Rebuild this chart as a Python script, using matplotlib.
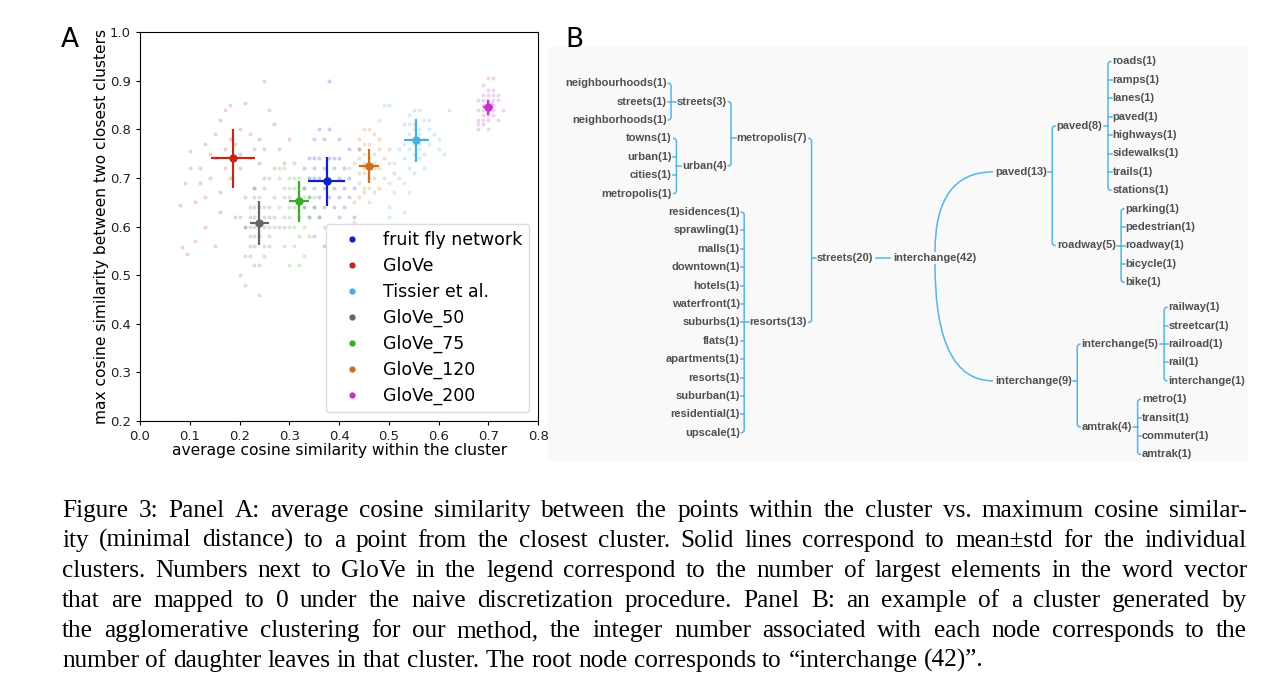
import matplotlib
matplotlib.use("Agg")
import matplotlib.pyplot as plt
from matplotlib.lines import Line2D
from matplotlib.path import Path
from matplotlib.patches import PathPatch, Rectangle

# ---------------- panel A data ----------------
names = ["fruit fly network", "GloVe", "Tissier et al.", "GloVe_50", "GloVe_75", "GloVe_120", "GloVe_200"]
colors = ["#1020c8", "#c0281c", "#45b0e5", "#666666", "#3aaa2a", "#cc6f1f", "#c334c8"]
mean_x = [0.375, 0.187, 0.555, 0.240, 0.320, 0.460, 0.700]
mean_y = [0.693, 0.740, 0.777, 0.607, 0.652, 0.725, 0.845]
std_x = [0.037, 0.045, 0.025, 0.020, 0.020, 0.020, 0.010]
std_y = [0.050, 0.060, 0.045, 0.045, 0.042, 0.035, 0.016]

fly_x = [0.36, 0.38, 0.35, 0.37, 0.40, 0.34, 0.35, 0.36, 0.38, 0.39, 0.40, 0.33, 0.35, 0.37, 0.39, 0.41,
         0.34, 0.35, 0.36, 0.38, 0.40, 0.42, 0.33, 0.35, 0.37, 0.39, 0.41, 0.34, 0.36, 0.38, 0.40, 0.42,
         0.35, 0.37, 0.39, 0.34, 0.36, 0.40, 0.38, 0.35, 0.37, 0.43, 0.38, 0.44, 0.42, 0.33, 0.41, 0.43]
fly_y = [0.80, 0.80, 0.78, 0.78, 0.78, 0.74, 0.74, 0.74, 0.74, 0.74, 0.74, 0.72, 0.72, 0.72, 0.72, 0.72,
         0.70, 0.70, 0.70, 0.70, 0.70, 0.70, 0.68, 0.68, 0.68, 0.68, 0.68, 0.66, 0.66, 0.66, 0.66, 0.66,
         0.64, 0.64, 0.64, 0.62, 0.62, 0.62, 0.60, 0.58, 0.56, 0.68, 0.90, 0.76, 0.76, 0.64, 0.64, 0.62]

glove_x = [0.10, 0.09, 0.08, 0.085, 0.095, 0.11, 0.13, 0.12, 0.13, 0.15, 0.16, 0.17, 0.18, 0.21, 0.20, 0.22,
           0.24, 0.25, 0.27, 0.26, 0.30, 0.27, 0.25, 0.23, 0.21, 0.16, 0.14, 0.15, 0.17, 0.19, 0.20, 0.18,
           0.22, 0.24, 0.16, 0.13, 0.25, 0.10, 0.11, 0.19, 0.15, 0.21, 0.28, 0.29, 0.17, 0.20, 0.18, 0.14,
           0.23, 0.12]
glove_y = [0.755, 0.69, 0.645, 0.557, 0.543, 0.57, 0.60, 0.72, 0.77, 0.79, 0.82, 0.84, 0.85, 0.855, 0.80, 0.79,
           0.78, 0.76, 0.81, 0.84, 0.78, 0.72, 0.70, 0.68, 0.66, 0.67, 0.70, 0.74, 0.76, 0.77, 0.72, 0.70,
           0.74, 0.73, 0.63, 0.66, 0.90, 0.72, 0.65, 0.62, 0.56, 0.60, 0.76, 0.73, 0.72, 0.75, 0.78, 0.75,
           0.76, 0.69]

tissier_x = [0.55, 0.56, 0.54, 0.57, 0.53, 0.55, 0.56, 0.58, 0.54, 0.55, 0.57, 0.59, 0.53, 0.56, 0.58, 0.52,
             0.54, 0.55, 0.57, 0.60, 0.53, 0.56, 0.51, 0.54, 0.55, 0.57, 0.52, 0.53, 0.50, 0.51, 0.54, 0.50,
             0.53, 0.50, 0.61, 0.60, 0.62, 0.49, 0.50, 0.48, 0.56, 0.55, 0.54, 0.58, 0.55, 0.56]
tissier_y = [0.84, 0.84, 0.83, 0.82, 0.81, 0.81, 0.80, 0.80, 0.79, 0.78, 0.78, 0.79, 0.77, 0.77, 0.77, 0.76,
             0.76, 0.75, 0.75, 0.76, 0.74, 0.74, 0.73, 0.72, 0.71, 0.72, 0.70, 0.69, 0.69, 0.67, 0.67, 0.64,
             0.63, 0.62, 0.75, 0.78, 0.84, 0.85, 0.85, 0.82, 0.79, 0.80, 0.81, 0.82, 0.77, 0.76]

g50_x = [0.22, 0.23, 0.24, 0.25, 0.26, 0.22, 0.23, 0.25, 0.26, 0.27, 0.21, 0.22, 0.23, 0.25, 0.26, 0.28,
         0.22, 0.23, 0.24, 0.26, 0.22, 0.23, 0.25, 0.26, 0.21, 0.22, 0.25, 0.23, 0.24, 0.20, 0.21, 0.24,
         0.23, 0.24, 0.25, 0.23, 0.26, 0.27, 0.29, 0.20]
g50_y = [0.64, 0.64, 0.64, 0.64, 0.64, 0.62, 0.62, 0.62, 0.62, 0.62, 0.60, 0.60, 0.60, 0.60, 0.60, 0.60,
         0.58, 0.58, 0.58, 0.58, 0.56, 0.56, 0.56, 0.56, 0.54, 0.54, 0.54, 0.52, 0.52, 0.50, 0.48, 0.46,
         0.66, 0.66, 0.68, 0.68, 0.70, 0.66, 0.60, 0.62]

g75_x = [0.28, 0.29, 0.31, 0.28, 0.30, 0.32, 0.29, 0.30, 0.31, 0.33, 0.29, 0.30, 0.32, 0.33, 0.34, 0.30,
         0.31, 0.33, 0.35, 0.29, 0.30, 0.32, 0.34, 0.36, 0.30, 0.31, 0.33, 0.32, 0.34, 0.29, 0.31, 0.33,
         0.30, 0.32, 0.27, 0.35, 0.31, 0.28, 0.34, 0.37]
g75_y = [0.72, 0.72, 0.73, 0.70, 0.70, 0.70, 0.68, 0.68, 0.68, 0.68, 0.66, 0.66, 0.66, 0.66, 0.66, 0.64,
         0.64, 0.64, 0.64, 0.62, 0.62, 0.62, 0.62, 0.62, 0.60, 0.60, 0.60, 0.58, 0.58, 0.56, 0.56, 0.54,
         0.52, 0.52, 0.60, 0.66, 0.70, 0.64, 0.70, 0.60]

g120_x = [0.45, 0.46, 0.47, 0.44, 0.45, 0.46, 0.48, 0.44, 0.45, 0.47, 0.48, 0.49, 0.44, 0.46, 0.43, 0.45,
          0.47, 0.48, 0.50, 0.44, 0.45, 0.46, 0.47, 0.49, 0.44, 0.45, 0.46, 0.48, 0.45, 0.47, 0.44, 0.46,
          0.43, 0.42, 0.50, 0.51, 0.46, 0.45, 0.47, 0.43]
g120_y = [0.80, 0.80, 0.79, 0.78, 0.77, 0.77, 0.78, 0.76, 0.75, 0.75, 0.76, 0.74, 0.74, 0.74, 0.73, 0.73,
          0.72, 0.72, 0.73, 0.71, 0.71, 0.70, 0.70, 0.70, 0.69, 0.68, 0.68, 0.68, 0.67, 0.67, 0.66, 0.65,
          0.65, 0.72, 0.76, 0.71, 0.72, 0.72, 0.73, 0.61]

g200_x = [0.70, 0.71, 0.69, 0.70, 0.71, 0.69, 0.70, 0.72, 0.68, 0.69, 0.70, 0.71, 0.72, 0.69, 0.70, 0.71,
          0.68, 0.69, 0.70, 0.71, 0.73, 0.69, 0.70, 0.71, 0.68, 0.69, 0.70, 0.72, 0.68, 0.69, 0.70, 0.68,
          0.695, 0.705, 0.70, 0.71]
g200_y = [0.905, 0.905, 0.89, 0.88, 0.88, 0.87, 0.87, 0.87, 0.86, 0.86, 0.86, 0.86, 0.86, 0.85, 0.85, 0.85,
          0.84, 0.84, 0.84, 0.84, 0.84, 0.83, 0.83, 0.83, 0.82, 0.82, 0.82, 0.82, 0.81, 0.81, 0.80, 0.80,
          0.845, 0.855, 0.835, 0.87]

clouds = [(fly_x, fly_y), (glove_x, glove_y), (tissier_x, tissier_y), (g50_x, g50_y),
          (g75_x, g75_y), (g120_x, g120_y), (g200_x, g200_y)]
x_ticks = [0.0, 0.1, 0.2, 0.3, 0.4, 0.5, 0.6, 0.7, 0.8]
y_ticks = [0.2, 0.3, 0.4, 0.5, 0.6, 0.7, 0.8, 0.9, 1.0]

# ---------------- panel B data ----------------
root_name = "interchange"
left_tree = ("streets", [
    ("metropolis", [
        ("streets", ["neighbourhoods", "streets", "neighborhoods"]),
        ("urban", ["towns", "urban", "cities", "metropolis"])]),
    ("resorts", ["residences", "sprawling", "malls", "downtown", "hotels", "waterfront", "suburbs",
                 "flats", "apartments", "resorts", "suburban", "residential", "upscale"])])
right_trees = [
    ("paved", [
        ("paved", ["roads", "ramps", "lanes", "paved", "highways", "sidewalks", "trails", "stations"]),
        ("roadway", ["parking", "pedestrian", "roadway", "bicycle", "bike"])]),
    ("interchange", [
        ("interchange", ["railway", "streetcar", "railroad", "rail", "interchange"]),
        ("amtrak", ["metro", "transit", "commuter", "amtrak"])])]

caption_lines = [
    "Figure 3: Panel A: average cosine similarity between the points within the cluster vs. maximum cosine similar-",
    "ity (minimal distance) to a point from the closest cluster. Solid lines correspond to mean\u00b1std for the individual",
    "clusters. Numbers next to GloVe in the legend correspond to the number of largest elements in the word vector",
    "that are mapped to 0 under the naive discretization procedure. Panel B: an example of a cluster generated by",
    "the agglomerative clustering for our method, the integer number associated with each node corresponds to the",
    "number of daughter leaves in that cluster. The root node corresponds to \u201cinterchange (42)\u201d.",
]

fig = plt.figure(figsize=(12.8, 6.81), dpi=100)
renderer = fig.canvas.get_renderer()

# overlay in pixel units for panel B, labels and caption
ov = fig.add_axes([0, 0, 1, 1])
ov.set_xlim(0, 1280)
ov.set_ylim(681, 0)
ov.axis("off")

# ---------------- panel A ----------------
ax = fig.add_axes([0.1094, 0.3818, 0.311, 0.5712])
for (cx, cy), c in zip(clouds, colors):
    ax.scatter(cx, cy, s=8, color=c, alpha=0.22, linewidths=0)
for i in range(len(names)):
    ax.errorbar(mean_x[i], mean_y[i], xerr=std_x[i], yerr=std_y[i], fmt="o", color=colors[i],
                ms=5, elinewidth=1.6, capsize=0)
ax.set_xlim(0, 0.8)
ax.set_ylim(0.2, 1.0)
ax.set_xticks(x_ticks)
ax.set_yticks(y_ticks)
ax.tick_params(labelsize=9.5, length=3, labelcolor="#222222")
ax.set_xlabel("average cosine similarity within the cluster", fontsize=11.2, labelpad=0)
ax.set_ylabel("max cosine similarity between two closest clusters", fontsize=11.2, labelpad=1)
handles = [Line2D([], [], marker="o", ls="none", color=c, ms=3.5) for c in colors]
ax.legend(handles, names, loc="lower right", fontsize=12.5, handlelength=2.2, handletextpad=0.7,
          labelspacing=0.45, borderaxespad=0.5, edgecolor="#dddddd", framealpha=1)

ov.text(61, 47, "A", fontsize=19, va="baseline")
ov.text(565, 47, "B", fontsize=19, va="baseline")

# ---------------- panel B ----------------
LINE = "#55b5e6"
LW = 1.1
ROW = 18.4
tree_font = dict(family="Liberation Sans", weight="bold", fontsize=8.0, color="#505050")
ov.add_patch(Rectangle((548, 47), 700, 415, color="#f9f9f9", lw=0, zorder=0))


def n_leaves(node):
    if isinstance(node, str):
        return 1
    return sum(n_leaves(c) for c in node[1])


def label(node):
    name = node if isinstance(node, str) else node[0]
    return "%s(%d)" % (name, n_leaves(node))


def draw_bracket(px, py, bx, ys, cx, side):
    r = 3.0
    ov.plot([px, bx], [py, py], color=LINE, lw=LW)
    top, bot = ys[0], ys[-1]
    verts = [(cx, top), (bx + side * r, top), (bx, top), (bx, top + r),
             (bx, bot - r), (bx, bot), (bx + side * r, bot), (cx, bot)]
    codes = [Path.MOVETO, Path.LINETO, Path.CURVE3, Path.CURVE3,
             Path.LINETO, Path.CURVE3, Path.CURVE3, Path.LINETO]
    ov.add_patch(PathPatch(Path(verts, codes), fill=False, ec=LINE, lw=LW))
    for y in ys[1:-1]:
        ov.plot([bx, cx], [y, y], color=LINE, lw=LW)


def draw_node(node, x, y_start, side):
    n = n_leaves(node)
    y = y_start + (n - 1) * ROW / 2
    t = ov.text(x, y, label(node), ha="left" if side > 0 else "right", va="center", **tree_font)
    if isinstance(node, str):
        return y
    w = t.get_window_extent(renderer).width
    bx = x + side * (w + 5.5)
    cx = bx + side * 4.5
    child_ys = []
    ys = y_start
    for c in node[1]:
        child_ys.append(draw_node(c, cx, ys, side))
        ys += n_leaves(c) * ROW
    draw_bracket(x + side * (w + 1), y, bx, child_ys, cx - side * 1, side)
    return y


root_x, root_y = 935, 258
root_txt = ov.text(root_x, root_y, "%s(%d)" % (root_name, n_leaves(left_tree) + sum(n_leaves(t) for t in right_trees)),
                   ha="center", va="center", **tree_font)
bb = root_txt.get_window_extent(renderer)
root_left = root_x - bb.width / 2

# left side
n_left = n_leaves(left_tree)
draw_node(left_tree, root_left - 20, root_y - (n_left - 1) * ROW / 2, -1)
ov.plot([root_left - 17, root_left - 3], [root_y, root_y], color=LINE, lw=LW)

# right side, with a bit more room between the two main branches
BRANCH_GAP = 6.6
n_right = sum(n_leaves(t) for t in right_trees)
y0 = root_y - ((n_right - 1) * ROW + BRANCH_GAP) / 2
child_x = root_x + 60
for k, tr in enumerate(right_trees):
    cy = draw_node(tr, child_x, y0, 1)
    sy = root_y - bb.height / 2 - 1 if cy < root_y else root_y + bb.height / 2 + 1
    curve = Path([(root_x, sy), (root_x, cy), (child_x - 2, cy)], [Path.MOVETO, Path.CURVE3, Path.CURVE3])
    ov.add_patch(PathPatch(curve, fill=False, ec=LINE, lw=LW))
    y0 += n_leaves(tr) * ROW + BRANCH_GAP

# ---------------- caption ----------------
cap_font = dict(family="Liberation Serif", fontsize=18.2, color="black")
left_edge, right_edge = 62, 1247
for i, line in enumerate(caption_lines):
    base = 517 + 30 * i
    words = line.split(" ")
    texts = [ov.text(0, base, w, va="baseline", ha="left", **cap_font) for w in words]
    widths = [t.get_window_extent(renderer).width for t in texts]
    if i < len(caption_lines) - 1:
        space = (right_edge - left_edge - sum(widths)) / (len(words) - 1)
    else:
        sp = ov.text(0, 0, "a a", **cap_font)
        sp2 = ov.text(0, 0, "aa", **cap_font)
        space = sp.get_window_extent(renderer).width - sp2.get_window_extent(renderer).width
        sp.remove()
        sp2.remove()
    x = left_edge
    for t, w in zip(texts, widths):
        t.set_x(x)
        x += w + space

fig.savefig("out.png", dpi=100)
